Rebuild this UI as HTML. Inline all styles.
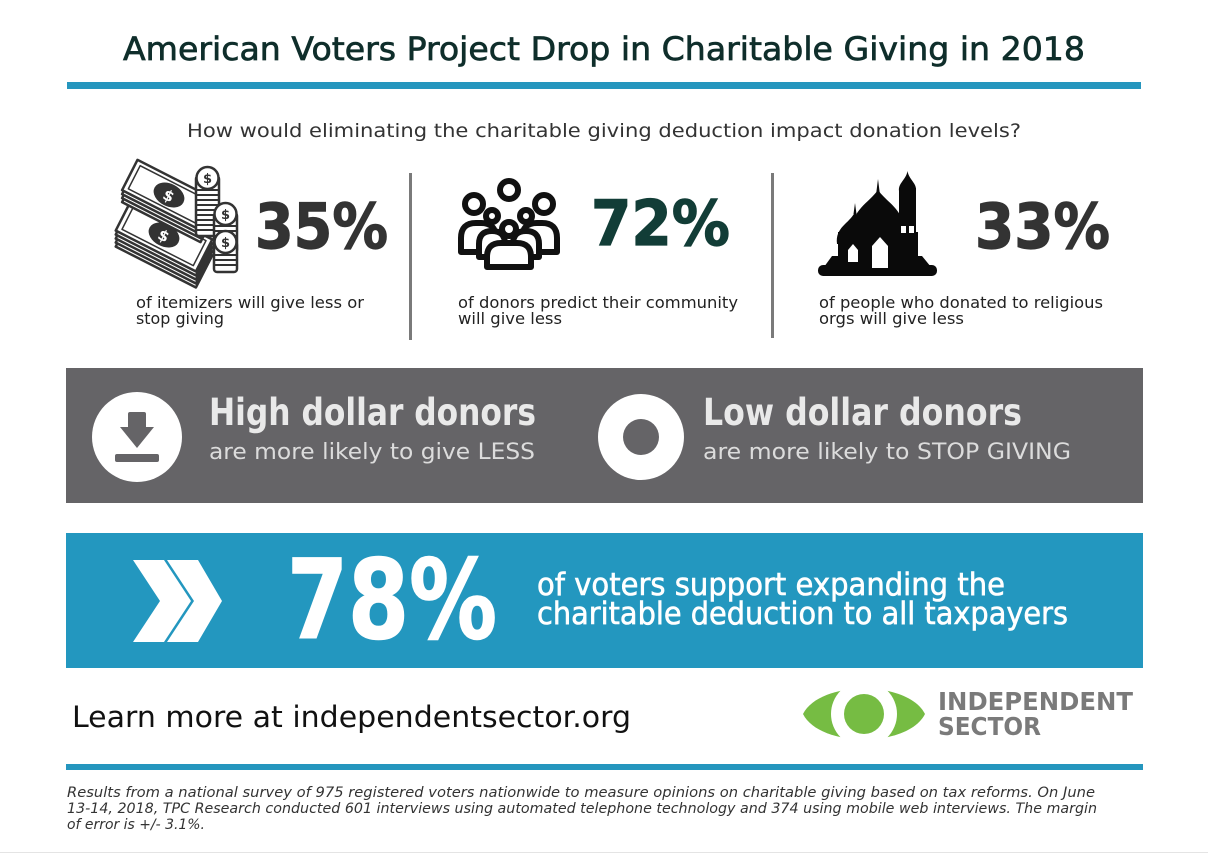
<!DOCTYPE html>
<html><head><meta charset="utf-8"><style>
html,body{margin:0;padding:0;background:#fff;}
svg{display:block;}
text{font-family:"DejaVu Sans","Liberation Sans",sans-serif;}
</style></head><body>
<svg width="1208" height="857" viewBox="0 0 1208 857" xmlns="http://www.w3.org/2000/svg">
<rect width="1208" height="857" fill="#fff"/>

<!-- Title -->
<text x="123" y="60" font-size="32" fill="#0f2e2b" stroke="#0f2e2b" stroke-width="0.7" textLength="962" lengthAdjust="spacingAndGlyphs">American Voters Project Drop in Charitable Giving in 2018</text>
<rect x="67" y="82" width="1074" height="7" fill="#2596be"/>
<text x="187" y="137" font-size="19" fill="#333" textLength="834" lengthAdjust="spacingAndGlyphs">How would eliminating the charitable giving deduction impact donation levels?</text>

<!-- Money icon -->
<g stroke="#333" stroke-width="2.5" fill="#fff" stroke-linejoin="round">
  <g transform="translate(0,16)"><rect x="119" y="217" width="90" height="36" transform="rotate(27 164 235)"/></g>
  <g transform="translate(0,12)"><rect x="119" y="217" width="90" height="36" transform="rotate(27 164 235)"/></g>
  <g transform="translate(0,8)"><rect x="119" y="217" width="90" height="36" transform="rotate(27 164 235)"/></g>
  <g transform="translate(0,4)"><rect x="119" y="217" width="90" height="36" transform="rotate(27 164 235)"/></g>
  <g transform="rotate(27 164 235)">
    <rect x="119" y="217" width="90" height="36"/>
    <rect x="124" y="221" width="80" height="28" fill="none" stroke-width="1.5"/>
    <ellipse cx="164" cy="235" rx="15" ry="10" fill="#333"/>
    <text x="164" y="241" font-size="15" font-weight="bold" fill="#fff" stroke="none" text-anchor="middle">$</text>
  </g>
  <g transform="translate(0,12)"><rect x="125" y="178" width="88" height="34" transform="rotate(27 169 195)"/></g>
  <g transform="translate(0,8)"><rect x="125" y="178" width="88" height="34" transform="rotate(27 169 195)"/></g>
  <g transform="translate(0,4)"><rect x="125" y="178" width="88" height="34" transform="rotate(27 169 195)"/></g>
  <g transform="rotate(27 169 195)">
    <rect x="125" y="178" width="88" height="34"/>
    <rect x="130" y="182" width="78" height="26" fill="none" stroke-width="1.5"/>
    <ellipse cx="169" cy="195" rx="15" ry="10" fill="#333"/>
    <text x="169" y="201" font-size="15" font-weight="bold" fill="#fff" stroke="none" text-anchor="middle">$</text>
  </g>
  <rect x="196" y="176" width="23" height="60" rx="3"/>
  <path d="M196 190H219M196 195H219M196 200H219M196 205H219M196 210H219M196 215H219M196 220H219M196 225H219M196 230H219" stroke-width="2"/>
  <circle cx="207.5" cy="178" r="11"/>
  <text x="207.5" y="183" font-size="13" font-weight="bold" fill="#333" stroke="none" text-anchor="middle">$</text>
  <rect x="214" y="213" width="23" height="40" rx="3"/>
  <path d="M214 226H237M214 231H237M214 236H237M214 241H237M214 246H237" stroke-width="2"/>
  <circle cx="225.5" cy="214" r="11"/>
  <text x="225.5" y="219" font-size="13" font-weight="bold" fill="#333" stroke="none" text-anchor="middle">$</text>
  <rect x="214" y="242" width="23" height="30" rx="3"/>
  <path d="M214 255H237M214 260H237M214 265H237" stroke-width="2"/>
  <circle cx="225.5" cy="242" r="11"/>
  <text x="225.5" y="247" font-size="13" font-weight="bold" fill="#333" stroke="none" text-anchor="middle">$</text>
</g>

<text x="255" y="248" font-size="62" font-weight="bold" fill="#333" stroke="#333" stroke-width="1.2" textLength="133" lengthAdjust="spacingAndGlyphs">35%</text>
<text x="136" y="308" font-size="16" fill="#222" textLength="228" lengthAdjust="spacingAndGlyphs">of itemizers will give less or</text>
<text x="136" y="324" font-size="16" fill="#222" textLength="88" lengthAdjust="spacingAndGlyphs">stop giving</text>

<rect x="409" y="173" width="3" height="167" fill="#7a7a7a"/>

<!-- People icon -->
<g stroke="#111" stroke-width="6" fill="#fff" stroke-linejoin="round">
  <circle cx="509" cy="190" r="9"/>
  <path d="M461 252 V238 Q461 223 476 223 H481 Q496 223 496 238 V252 Z"/>
  <path d="M557 252 V238 Q557 223 542 223 H537 Q522 223 522 238 V252 Z"/>
  <circle cx="474" cy="204" r="9"/>
  <circle cx="544" cy="204" r="9"/>
  <path d="M479 257 V244 Q479 231 492 231 Q505 231 505 244 V257 Z"/>
  <path d="M539 257 V244 Q539 231 526 231 Q513 231 513 244 V257 Z"/>
  <circle cx="492" cy="216" r="6"/>
  <circle cx="526" cy="216" r="6"/>
  <path d="M487 267 V257 Q487 243 501 243 H517 Q531 243 531 257 V267 Z"/>
  <circle cx="509" cy="229" r="7"/>
</g>

<text x="591" y="245" font-size="62" font-weight="bold" fill="#123d37" stroke="#123d37" stroke-width="1.2" textLength="139" lengthAdjust="spacingAndGlyphs">72%</text>
<text x="458" y="308" font-size="16" fill="#222" textLength="280" lengthAdjust="spacingAndGlyphs">of donors predict their community</text>
<text x="458" y="324" font-size="16" fill="#222" textLength="104" lengthAdjust="spacingAndGlyphs">will give less</text>

<rect x="771" y="173" width="3" height="165" fill="#7a7a7a"/>

<!-- Mosque icon -->
<g fill="#0a0a0a">
  <rect x="818" y="265" width="119" height="11" rx="5"/>
  <path d="M824 267 L832 256 H922 L931 267 Z"/>
  <rect x="838" y="232" width="80" height="28"/>
  <path d="M852 236 C850 210 868 204 878 190 C888 204 906 210 904 236 Z"/>
  <polygon points="876,195 878,179 880,195"/>
  <path d="M837 244 C835 227 849 224 855 212 C861 224 875 227 873 244 Z"/>
  <polygon points="853.5,214 855,203 856.5,214"/>
  <rect x="899" y="188" width="17" height="74"/>
  <path d="M899 191 C898 183 906 180 907.5 171 C909 180 917 183 916 191 Z"/>
</g>
<g fill="#fff">
  <path d="M848 262 V250 L853 244 L858 250 V262 Z"/>
  <path d="M872 268 V246 L880 237 L888 246 V268 Z"/>
  <rect x="901" y="226" width="5" height="7"/>
  <rect x="909" y="226" width="5" height="7"/>
</g>

<text x="975" y="248" font-size="62" font-weight="bold" fill="#333" stroke="#333" stroke-width="1.2" textLength="135" lengthAdjust="spacingAndGlyphs">33%</text>
<text x="819" y="308" font-size="16" fill="#222" textLength="284" lengthAdjust="spacingAndGlyphs">of people who donated to religious</text>
<text x="819" y="324" font-size="16" fill="#222" textLength="145" lengthAdjust="spacingAndGlyphs">orgs will give less</text>

<!-- Gray band -->
<rect x="66" y="368" width="1077" height="135" fill="#656467"/>
<circle cx="137" cy="437" r="45" fill="#fff"/>
<g fill="#656467">
  <rect x="128" y="412" width="18" height="18" rx="2"/>
  <polygon points="120,427 154,427 137,448"/>
  <rect x="115" y="454" width="44" height="8" rx="2"/>
</g>
<text x="209" y="425" font-size="37" font-weight="bold" fill="#e9e9e9" textLength="327" lengthAdjust="spacingAndGlyphs">High dollar donors</text>
<text x="209" y="459" font-size="22" fill="#dcdcdc" textLength="326" lengthAdjust="spacingAndGlyphs">are more likely to give LESS</text>

<circle cx="641" cy="437" r="43" fill="#fff"/>
<circle cx="641" cy="437" r="18" fill="#656467"/>
<text x="703" y="425" font-size="37" font-weight="bold" fill="#e9e9e9" textLength="319" lengthAdjust="spacingAndGlyphs">Low dollar donors</text>
<text x="703" y="459" font-size="22" fill="#dcdcdc" textLength="368" lengthAdjust="spacingAndGlyphs">are more likely to STOP GIVING</text>

<!-- Blue band -->
<rect x="66" y="533" width="1077" height="135" fill="#2397bf"/>
<g fill="#fff">
  <polygon points="133,560 164,560 191,601 164,642 133,642 160,601"/>
  <polygon points="167,560 198,560 222,601 198,642 167,642 194,601"/>
</g>
<text x="287" y="638" font-size="110" font-weight="bold" fill="#fff" stroke="#fff" stroke-width="1.5" textLength="210" lengthAdjust="spacingAndGlyphs">78%</text>
<text x="537" y="595" font-size="31" fill="#fff" stroke="#fff" stroke-width="0.6" textLength="468" lengthAdjust="spacingAndGlyphs">of voters support expanding the</text>
<text x="537" y="624" font-size="31" fill="#fff" stroke="#fff" stroke-width="0.6" textLength="531" lengthAdjust="spacingAndGlyphs">charitable deduction to all taxpayers</text>

<!-- Footer -->
<text x="72" y="727" font-size="29" fill="#111" textLength="559" lengthAdjust="spacingAndGlyphs">Learn more at independentsector.org</text>

<!-- Logo -->
<path d="M803 714 C820 680 908 680 925 714 C908 748 820 748 803 714 Z" fill="#76bc43"/>
<circle cx="864" cy="714" r="33" fill="#fff"/>
<circle cx="864" cy="714" r="20" fill="#76bc43"/>
<text x="938" y="710" font-size="25" font-weight="bold" fill="#7a7a7a" textLength="195" lengthAdjust="spacingAndGlyphs">INDEPENDENT</text>
<text x="938" y="735" font-size="25" font-weight="bold" fill="#7a7a7a" textLength="103" lengthAdjust="spacingAndGlyphs">SECTOR</text>

<rect x="66" y="764" width="1077" height="6" fill="#2596be"/>

<g font-size="14" font-style="italic" fill="#333">
  <text x="67" y="797" textLength="1028" lengthAdjust="spacingAndGlyphs">Results from a national survey of 975 registered voters nationwide to measure opinions on charitable giving based on tax reforms. On June</text>
  <text x="67" y="813" textLength="1030" lengthAdjust="spacingAndGlyphs">13-14, 2018, TPC Research conducted 601 interviews using automated telephone technology and 374 using mobile web interviews. The margin</text>
  <text x="67" y="829" textLength="138" lengthAdjust="spacingAndGlyphs">of error is +/- 3.1%.</text>
</g>

<rect x="0" y="852" width="1208" height="1" fill="#e4e4e4"/>
</svg>
</body></html>
